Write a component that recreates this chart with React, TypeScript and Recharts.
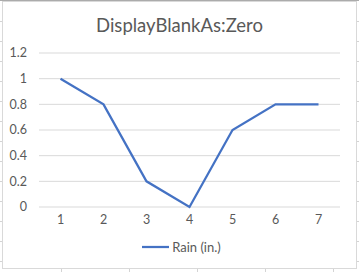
import React from "react";
import { LineChart, Line, XAxis, YAxis, CartesianGrid, Legend } from "recharts";

const categories = ["1", "2", "3", "4", "5", "6", "7"];
const rain = [1, 0.8, 0.2, 0, 0.6, 0.8, 0.8];
const yTicks = [0, 0.2, 0.4, 0.6, 0.8, 1, 1.2];
const seriesName = "Rain (in.)";
const title = "DisplayBlankAs:Zero";

const data = categories.map((c, i) => ({ cat: c, rain: rain[i] }));

const FONT = "Lato, 'Open Sans', sans-serif";
const TEXT = "#595959";
const BLUE = "#4472C4";

// spreadsheet cell lines behind the chart object
const sheetCols = [61, 129, 197, 265, 333];
const sheetRows = [21, 41, 61, 81, 101, 121, 141, 161, 181, 201, 221, 241, 261];

const RainLegend = () => (
  <div
    style={{
      display: "flex",
      justifyContent: "center",
      alignItems: "center",
      fontFamily: FONT,
      fontSize: 13,
      color: TEXT,
      height: 20,
      paddingLeft: 4,
    }}
  >
    <svg width={27} height={4}>
      <line x1={0} y1={2} x2={27} y2={2} stroke={BLUE} strokeWidth={2.25} />
    </svg>
    <span style={{ marginLeft: 3 }}>{seriesName}</span>
  </div>
);

const App: React.FC = () => {
  return (
    <div
      style={{
        position: "absolute",
        top: 0,
        left: 0,
        width: 359,
        height: 272,
        background: "#fff",
        overflow: "hidden",
      }}
    >
      {/* sheet grid */}
      {sheetCols.map((x) => (
        <div
          key={"c" + x}
          style={{ position: "absolute", left: x, top: 0, width: 1, height: 272, background: "#d4d4d4" }}
        />
      ))}
      {sheetRows.map((y) => (
        <div
          key={"r" + y}
          style={{ position: "absolute", left: 0, top: y, width: 359, height: 1, background: "#d4d4d4" }}
        />
      ))}
      <div style={{ position: "absolute", left: 0, top: 0, width: 359, height: 1, background: "#ababab" }} />

      {/* chart object */}
      <div
        style={{
          position: "absolute",
          left: 2,
          top: 1,
          width: 353,
          height: 266,
          background: "#fff",
          border: "1px solid #d9d9d9",
        }}
      />

      <div
        style={{
          position: "absolute",
          left: 0,
          top: 13,
          width: 359,
          textAlign: "center",
          fontFamily: FONT,
          fontSize: 18.5,
          color: TEXT,
          lineHeight: "24px",
        }}
      >
        {title}
      </div>

      <div style={{ position: "absolute", left: 0, top: 0 }}>
        <LineChart
          width={359}
          height={272}
          data={data}
          margin={{ top: 53, right: 19, left: 0, bottom: 15 }}
        >
          <CartesianGrid vertical={false} stroke="#d9d9d9" />
          <XAxis
            dataKey="cat"
            axisLine={false}
            tickLine={false}
            height={30}
            padding={{ left: 21.5, right: 21.5 }}
            tick={{ fill: TEXT, fontSize: 12.5, fontFamily: FONT }}
          />
          <YAxis
            width={39}
            domain={[0, 1.2]}
            ticks={yTicks}
            axisLine={false}
            tickLine={false}
            tickMargin={6}
            tick={{ fill: TEXT, fontSize: 12.5, fontFamily: FONT }}
          />
          <Legend
            verticalAlign="bottom"
            height={20}
            content={<RainLegend />}
            wrapperStyle={{ left: 0, width: 359 }}
          />
          <Line
            type="linear"
            dataKey="rain"
            name={seriesName}
            stroke={BLUE}
            strokeWidth={2.25}
            dot={false}
            isAnimationActive={false}
          />
        </LineChart>
      </div>
    </div>
  );
};

export default App;
